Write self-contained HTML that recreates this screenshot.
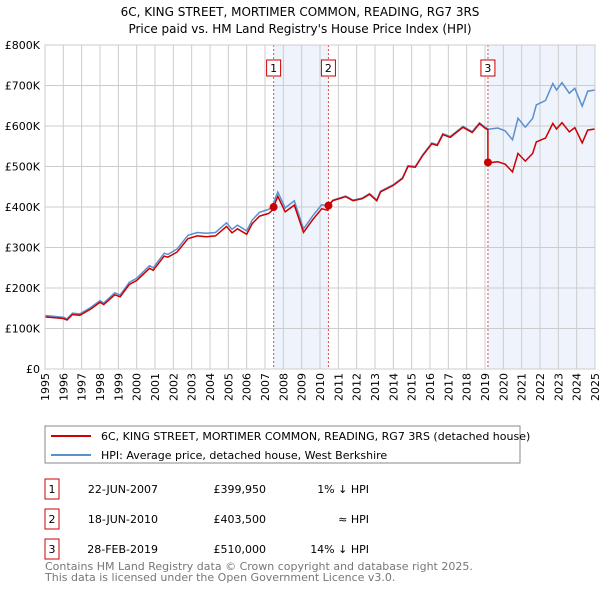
<!DOCTYPE html>
<html><head><meta charset="utf-8"><style>
body{margin:0;background:#fff;font-family:"Liberation Sans","DejaVu Sans",sans-serif;}
svg text{font-family:"DejaVu Sans","Liberation Sans",sans-serif;}
</style></head><body>
<svg id="c" width="600" height="590" xmlns="http://www.w3.org/2000/svg">
<text x="300" y="16" text-anchor="middle" font-size="12">6C, KING STREET, MORTIMER COMMON, READING, RG7 3RS</text>
<text x="300" y="33" text-anchor="middle" font-size="12">Price paid vs. HM Land Registry's House Price Index (HPI)</text>
<g id="plot"></g>
<rect x="45" y="426" width="475" height="37" fill="#fff" stroke="#888"/>
<line x1="51" y1="436" x2="91" y2="436" stroke="#cc0000" stroke-width="2"/>
<text x="101" y="440" font-size="11">6C, KING STREET, MORTIMER COMMON, READING, RG7 3RS (detached house)</text>
<line x1="51" y1="455" x2="91" y2="455" stroke="#5b8fd0" stroke-width="2"/>
<text x="101" y="459" font-size="11">HPI: Average price, detached house, West Berkshire</text>
<g id="table" font-size="11"></g>
<text x="45" y="570" font-size="11" fill="#777">Contains HM Land Registry data © Crown copyright and database right 2025.</text>
<text x="45" y="581" font-size="11" fill="#777">This data is licensed under the Open Government Licence v3.0.</text>
</svg>
<script>
const hpiYears=[1995,1996,1996.2,1996.5,1996.9,1997.5,1998,1998.2,1998.8,1999.1,1999.6,2000,2000.7,2000.9,2001.5,2001.7,2002.2,2002.8,2003.3,2003.8,2004.3,2004.9,2005.2,2005.5,2006,2006.3,2006.7,2007.2,2007.4,2007.7,2008.1,2008.6,2009.1,2009.6,2010.1,2010.4,2010.7,2011.4,2011.8,2012.3,2012.7,2013.1,2013.3,2014,2014.5,2014.8,2015.2,2015.6,2016.1,2016.4,2016.7,2017.1,2017.8,2018.3,2018.7,2019.0,2019.2,2019.7,2020.1,2020.5,2020.8,2021.2,2021.6,2021.8,2022.3,2022.7,2022.9,2023.2,2023.6,2023.9,2024.3,2024.6,2025.0];
const hpiValues=[132,128,124,138,136,152,169,163,188,183,214,224,255,250,286,283,296,330,337,335,337,361,345,355,341,368,387,394,402,437,398,415,346,378,406,402,417,427,417,422,433,417,439,455,472,502,500,529,558,554,581,574,599,586,608,597,592,595,588,566,619,597,619,652,663,705,689,707,681,693,649,686,689];
const saleYears=[2007.47,2010.46,2019.16];
const salePrices=[399950,403500,510000];
const saleDates=["22-JUN-2007","18-JUN-2010","28-FEB-2019"];
const salePriceLabels=["£399,950","£403,500","£510,000"];
const saleHpiLabels=["1% ↓ HPI","≈ HPI","14% ↓ HPI"];
const yTicks=[0,100,200,300,400,500,600,700,800];
const yTickLabels=["£0","£100K","£200K","£300K","£400K","£500K","£600K","£700K","£800K"];
const xTicks=[1995,1996,1997,1998,1999,2000,2001,2002,2003,2004,2005,2006,2007,2008,2009,2010,2011,2012,2013,2014,2015,2016,2017,2018,2019,2020,2021,2022,2023,2024,2025];

const X0=45,X1=595,Y0=369,Y1=45;
const xs=y=>X0+(y-1995)/30*(X1-X0);
const ys=v=>Y0-v/800*(Y0-Y1);
const NS="http://www.w3.org/2000/svg";
const plot=document.getElementById('plot');
function mk(tag,attrs,parent){const e=document.createElementNS(NS,tag);for(const k in attrs)e.setAttribute(k,attrs[k]);(parent||plot).appendChild(e);return e;}
function hpiAt(t){for(let i=1;i<hpiYears.length;i++){if(t<=hpiYears[i]){const a=hpiYears[i-1],b=hpiYears[i];const f=(t-a)/(b-a);return hpiValues[i-1]+f*(hpiValues[i]-hpiValues[i-1]);}}return hpiValues[hpiValues.length-1];}

for(let i=0;i<saleYears.length;i++){
  const end=i===0?saleYears[1]:(i===1?null:2025);
  if(end===null)continue;
  const r=mk('rect',{x:xs(saleYears[i]),y:Y1,width:xs(end)-xs(saleYears[i]),height:Y0-Y1,fill:'#eef3fc'});
  
  
}
xTicks.forEach((t,i)=>{
  const l=mk('line',{x1:xs(t),x2:xs(t),y1:Y1,y2:Y0,stroke:'#ccc','stroke-width':1});
  
  
  const tx=mk('text',{x:0,y:0,'font-size':11,'text-anchor':'end',transform:`translate(${xs(t)+4},${Y0+4}) rotate(-90)`});
  tx.textContent=t;
  
  
});
yTicks.forEach((v,i)=>{
  const l=mk('line',{x1:X0,x2:X1,y1:ys(v),y2:ys(v),stroke:'#ccc','stroke-width':1});
  
  
  const tx=mk('text',{x:40,y:ys(v)+4,'font-size':11,'text-anchor':'end'});
  tx.textContent=yTickLabels[i];
  
  
});
saleYears.forEach((t,i)=>{
  const l=mk('line',{x1:xs(t),x2:xs(t),y1:Y1,y2:Y0,stroke:'#e05050','stroke-width':1,'stroke-dasharray':'2,2'});
  
  
  const b=mk('rect',{x:xs(t)-7,y:60,width:14,height:16,fill:'#fff',stroke:'#cc0000'});
  
  
  const tx=mk('text',{x:xs(t),y:72,'font-size':11,'text-anchor':'middle'});
  tx.textContent=i+1;
  
  
});
let d='';hpiYears.forEach((t,i)=>{d+=(i?'L':'M')+xs(t).toFixed(1)+','+ys(hpiValues[i]).toFixed(1);});
const hl=mk('path',{d:d,fill:'none',stroke:'#5b8fd0','stroke-width':1.5});


function ratioAt(t){let k=0;for(let i=0;i<saleYears.length;i++)if(t>=saleYears[i])k=i;return salePrices[k]/1000/hpiAt(saleYears[k]);}
const pts=[];
hpiYears.forEach(t=>pts.push(t));saleYears.forEach(t=>{pts.push(t-0.001);pts.push(t);});
pts.sort((a,b)=>a-b);
let d2='';pts.forEach((t,i)=>{d2+=(i?'L':'M')+xs(t).toFixed(1)+','+ys(hpiAt(t)*ratioAt(t)).toFixed(1);});
const pl=mk('path',{d:d2,fill:'none',stroke:'#cc0000','stroke-width':1.5});


saleYears.forEach((t,i)=>{
  const c=mk('circle',{cx:xs(t),cy:ys(salePrices[i]/1000),r:4,fill:'#cc0000'});
  
  
});
const ax=mk('rect',{x:X0,y:Y1,width:X1-X0,height:Y0-Y1,fill:'none',stroke:'#ccc'});


const tb=document.getElementById('table');
saleYears.forEach((t,i)=>{
  const y=489+i*30;
  const b=mk('rect',{x:45,y:y-10,width:14,height:20,fill:'#fff',stroke:'#cc0000'},tb);
  
  
  const cells=[[52,'middle',String(i+1)],[158,'end',saleDates[i]],[266,'end',salePriceLabels[i]],[369,'end',saleHpiLabels[i]]];
  cells.forEach((c,j)=>{
    const tx=mk('text',{x:c[0],y:y+4,'text-anchor':c[1]},tb);
    tx.textContent=c[2];
    
    
  });
});
</script>
</body></html>
